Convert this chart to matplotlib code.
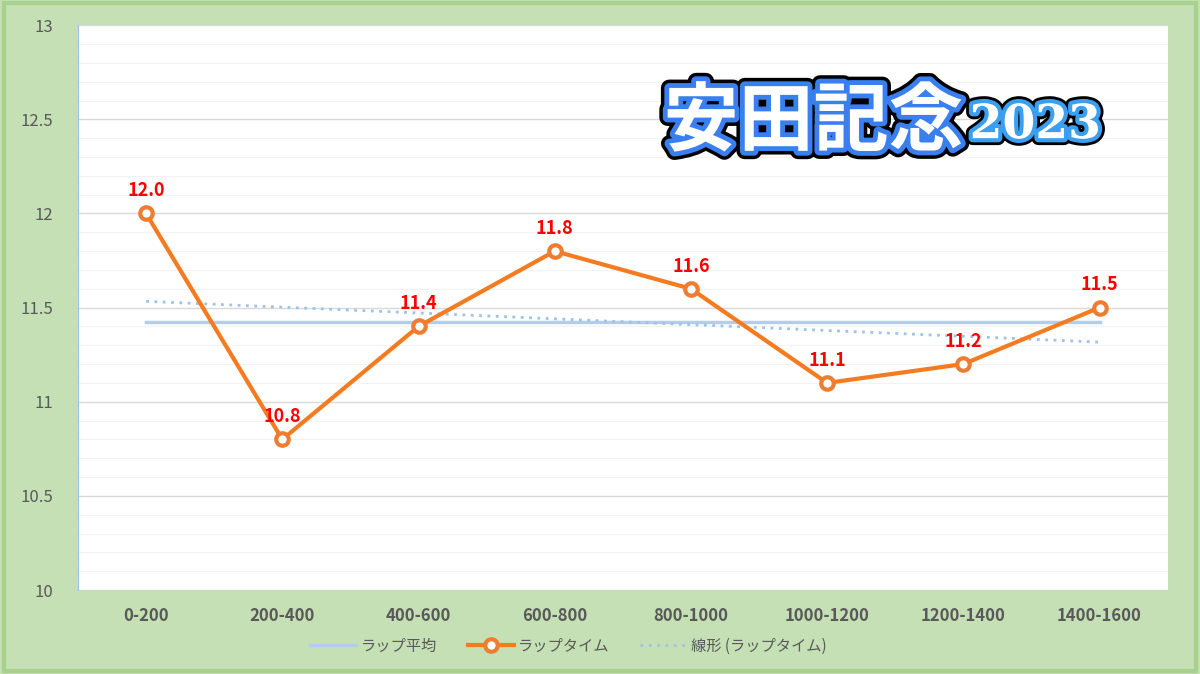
import numpy as np
import matplotlib.pyplot as plt
import matplotlib.patheffects as pe
from matplotlib.patches import Rectangle

plt.rcParams['font.family'] = ['Noto Sans CJK JP', 'DejaVu Sans']

laps = ["0-200", "200-400", "400-600", "600-800", "800-1000",
        "1000-1200", "1200-1400", "1400-1600"]
lap_time = [12.0, 10.8, 11.4, 11.8, 11.6, 11.1, 11.2, 11.5]

x = np.arange(len(laps))
avg = np.mean(lap_time)
slope, icpt = np.polyfit(x, lap_time, 1)

fig = plt.figure(figsize=(12, 6.74), dpi=100)
fig.patch.set_facecolor("#c5e0b4")
fig.patches.append(Rectangle((0.003, 0.004), 0.994, 0.992, transform=fig.transFigure,
                             fill=False, ec="#a9d18e", lw=3))
ax = fig.add_axes([0.065, 0.1246, 0.908, 0.838])
ax.set_facecolor("white")

ax.plot(x, [avg] * len(x), color="#b4cde8", lw=2.5, label="ラップ平均", zorder=2)
ax.plot(x, lap_time, color="#f47b20", lw=3, marker="o", ms=9, mfc="white",
        mec="#ee7d31", mew=3, label="ラップタイム", zorder=4)
ax.plot(x, slope * x + icpt, color="#9dc3e6", lw=2, ls=(0, (1, 2)),
        label="線形 (ラップタイム)", zorder=3)

for xi, v in zip(x, lap_time):
    ax.text(xi, v + 0.07, f"{v:.1f}", color="red", ha="center", va="bottom",
            fontsize=13, fontweight="bold", zorder=5)

ax.set_ylim(10, 13)
ax.set_xlim(-0.5, len(x) - 0.5)
ax.set_xticks(x)
ax.set_xticklabels(laps, fontsize=12, fontweight="bold", color="#595959")
ax.set_yticks([10, 10.5, 11, 11.5, 12, 12.5, 13])
ax.set_yticklabels(["10", "10.5", "11", "11.5", "12", "12.5", "13"], fontsize=12,
                   color="#595959")
ax.set_yticks(np.arange(10, 13.01, 0.1), minor=True)
ax.tick_params(axis="y", which="both", length=0, pad=18)
ax.tick_params(axis="x", length=0, pad=12)
ax.grid(axis="y", which="major", color="#d9d9d9", lw=1)
ax.grid(axis="y", which="minor", color="#f2f2f2", lw=0.8)
for s in ["top", "right", "bottom"]:
    ax.spines[s].set_visible(False)
ax.spines["left"].set_color("#9dc3e6")

ax.legend(loc="upper center", bbox_to_anchor=(0.45, -0.06), ncol=3, frameon=False,
          fontsize=11, labelcolor="#595959", handlelength=3, columnspacing=2,
          handletextpad=0.3)

fig.text(0.553, 0.785, "安田記念", fontsize=54, fontweight="bold", color="white",
         path_effects=[pe.withStroke(linewidth=12, foreground="black"),
                       pe.withStroke(linewidth=7, foreground="#3a7ff0")])
fig.text(0.808, 0.795, "2023", fontsize=34, fontweight="bold", color="white",
         family=["DejaVu Serif"],
         path_effects=[pe.withStroke(linewidth=10, foreground="black"),
                       pe.withStroke(linewidth=6, foreground="#3a9ff0")])

fig.savefig("out.png", dpi=100, facecolor=fig.get_facecolor())
